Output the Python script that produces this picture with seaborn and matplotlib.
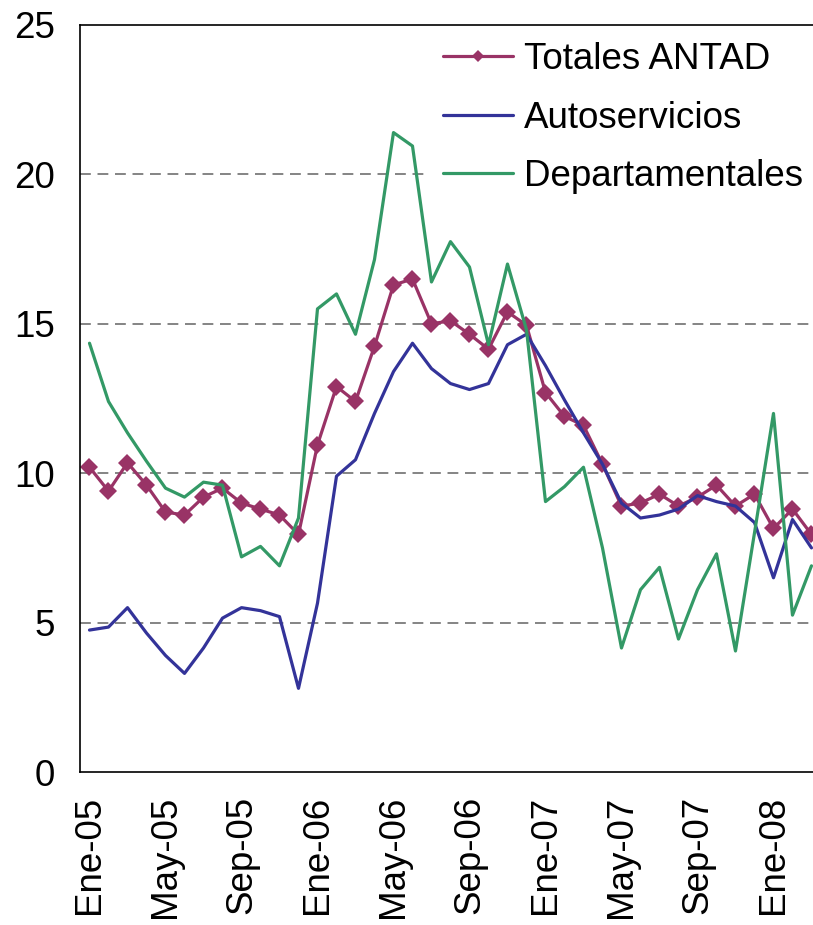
import numpy as np
import pandas as pd
import matplotlib
matplotlib.use("Agg")
import matplotlib.pyplot as plt
import seaborn as sns

# monthly series, Ene-05 .. Mar-08
meses = ["Ene", "Feb", "Mar", "Abr", "May", "Jun", "Jul", "Ago", "Sep", "Oct", "Nov", "Dic"]
etiquetas = [f"{meses[i % 12]}-{5 + i // 12:02d}" for i in range(39)]

totales = [10.2, 9.4, 10.35, 9.6, 8.7, 8.6, 9.2, 9.5, 9.0, 8.8, 8.6, 7.95,
           10.95, 12.9, 12.4, 14.25, 16.3, 16.5, 15.0, 15.1, 14.65, 14.15, 15.4, 14.95,
           12.7, 11.9, 11.6, 10.3, 8.9, 9.0, 9.3, 8.9, 9.2, 9.6, 8.9, 9.3,
           8.15, 8.8, 7.95]
autoservicios = [4.75, 4.85, 5.5, 4.65, 3.9, 3.3, 4.15, 5.15, 5.5, 5.4, 5.2, 2.8,
                 5.65, 9.9, 10.45, 12.0, 13.4, 14.35, 13.5, 13.0, 12.8, 13.0, 14.3, 14.65,
                 13.6, 12.45, 11.35, 10.3, 9.0, 8.5, 8.6, 8.8, 9.25, 9.05, 8.9, 8.35,
                 6.5, 8.45, 7.5]
departamentales = [14.35, 12.4, 11.35, 10.4, 9.5, 9.2, 9.7, 9.6, 7.2, 7.55, 6.9, 8.5,
                   15.5, 16.0, 14.65, 17.15, 21.4, 20.95, 16.4, 17.75, 16.9, 14.3, 17.0, 14.8,
                   9.05, 9.55, 10.2, 7.5, 4.15, 6.1, 6.85, 4.45, 6.1, 7.3, 4.05, 8.0,
                   12.0, 5.25, 6.9]

series = {
    "Totales ANTAD": (totales, "#993366", "D"),
    "Autoservicios": (autoservicios, "#333399", None),
    "Departamentales": (departamentales, "#339966", None),
}

sns.set_style("white")
plt.rcParams["font.family"] = ["Liberation Sans", "DejaVu Sans"]
plt.rcParams["text.color"] = "black"
plt.rcParams["xtick.color"] = "black"
plt.rcParams["ytick.color"] = "black"

fs = 26.5

fig = plt.figure(figsize=(8.13, 9.25), dpi=100)
ax = fig.add_axes([80 / 813, (925 - 772) / 925, 1 - 80 / 813, (772 - 25) / 925])

x = np.arange(len(etiquetas))
for name, (vals, color, marker) in series.items():
    sns.lineplot(x=x, y=vals, ax=ax, color=color, linewidth=2.3, label=name,
                 marker=marker, markersize=9 if marker else 0, markeredgewidth=0)

ax.set_xlim(-0.5, 38.08)
ax.set_ylim(0, 25)
ax.set_yticks([0, 5, 10, 15, 20, 25])
for yv in [5, 10, 15, 20]:
    ax.axhline(yv, color="#707070", linewidth=1.2, dashes=(6.5, 4), zorder=0)

# labels centred on months, tick marks on category boundaries
lab_pos = x[::4]
ax.set_xticks(lab_pos)
ax.set_xticklabels([etiquetas[i] for i in lab_pos], rotation=90)
ax.set_xticks(lab_pos - 0.5, minor=True)
ax.tick_params(axis="x", which="major", length=0, pad=17, labelsize=fs)
ax.tick_params(axis="x", which="minor", length=8, width=1, color="#404040", direction="out")
ax.tick_params(axis="y", length=8, width=1, color="#404040", direction="out", pad=10, labelsize=fs)
ax.set_xlabel("")
ax.set_ylabel("")

for s in ["left", "bottom", "top"]:
    ax.spines[s].set_color("black")
    ax.spines[s].set_linewidth(1.2)
ax.spines["right"].set_visible(False)

# opaque white legend box without border (hides the 20 gridline behind it)
leg = ax.legend(loc="upper right", bbox_to_anchor=(1.007, 0.998), frameon=True, fontsize=fs,
                handlelength=1.9, handletextpad=0.3, labelspacing=0.64,
                borderpad=0.42, borderaxespad=0, fancybox=False)
leg.get_frame().set_facecolor("white")
leg.get_frame().set_edgecolor("none")
leg.get_frame().set_alpha(1.0)
for h in leg.get_lines():
    h.set_markersize(6)

fig.savefig("out.png", dpi=100)
